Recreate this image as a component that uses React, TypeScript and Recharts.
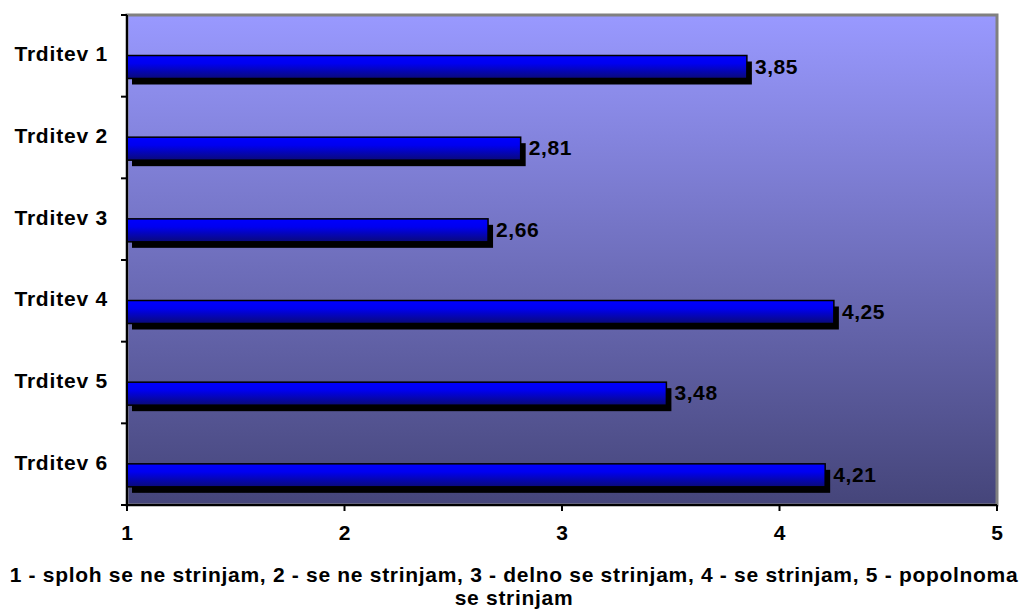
import React from "react";
import {
  BarChart,
  Bar,
  XAxis,
  YAxis,
  CartesianGrid,
  ReferenceArea,
  LabelList,
  Label,
} from "recharts";

const categories = ["Trditev 1", "Trditev 2", "Trditev 3", "Trditev 4", "Trditev 5", "Trditev 6"];
const values = [3.85, 2.81, 2.66, 4.25, 3.48, 4.21];
const xTicks = [1, 2, 3, 4, 5];
const titleLines = [
  "1 - sploh se ne strinjam, 2 - se ne strinjam, 3 - delno se strinjam, 4 - se strinjam, 5 - popolnoma",
  "se strinjam",
];

const data = categories.map((name, i) => ({ name, value: values[i] }));

const FONT = "'Liberation Sans', Arial, sans-serif";

// bar sits in the lower half of its band, with a black drop shadow
function ShadowBar(props: any) {
  const { x, y, width, height } = props;
  const top = y + height / 2;
  return (
    <g>
      <rect x={x + 5} y={top + 6} width={width} height={height} fill="#000" />
      <rect
        x={x}
        y={top}
        width={width}
        height={height}
        fill="url(#barFill)"
        stroke="#000"
        strokeWidth={1.5}
      />
    </g>
  );
}

function ValueLabel(props: any) {
  const { x, y, width, height, value } = props;
  return (
    <text
      x={x + width + 8}
      y={y + height + 1}
      dominantBaseline="middle"
      fontFamily={FONT}
      fontWeight="bold"
      fontSize={21}
      letterSpacing={0.6}
      fill="#000"
    >
      {Number(value).toFixed(2).replace(".", ",")}
    </text>
  );
}

function CategoryTick(props: any) {
  const { x, y, payload, index } = props;
  const half = payload?.offset ?? 41;
  return (
    <g>
      <line x1={x - 6} y1={y - half} x2={x} y2={y - half} stroke="#000" strokeWidth={2} />
      {index === categories.length - 1 && (
        <line x1={x - 6} y1={y + half} x2={x} y2={y + half} stroke="#000" strokeWidth={2} />
      )}
      <text
        x={x - 19}
        y={y}
        textAnchor="end"
        dominantBaseline="middle"
        fontFamily={FONT}
        fontWeight="bold"
        fontSize={21}
        letterSpacing={0.8}
        fill="#000"
      >
        {payload.value}
      </text>
    </g>
  );
}

function XTick(props: any) {
  const { x, y, payload } = props;
  return (
    <text
      x={x}
      y={y}
      dy={19}
      textAnchor="middle"
      fontFamily={FONT}
      fontWeight="bold"
      fontSize={21}
      fill="#000"
    >
      {payload.value}
    </text>
  );
}

function AxisTitle(props: any) {
  const vb = props.viewBox || {};
  const cx = 514;
  return (
    <text
      textAnchor="middle"
      fontFamily={FONT}
      fontWeight="bold"
      fontSize={21}
      letterSpacing={0.7}
      fill="#000"
    >
      <tspan x={cx} y={(vb.y ?? 505) + 77}>
        {titleLines[0]}
      </tspan>
      <tspan x={cx} y={(vb.y ?? 505) + 100}>
        {titleLines[1]}
      </tspan>
    </text>
  );
}

export default function App() {
  return (
    <div style={{ position: "absolute", left: 0, top: 0, width: 1026, height: 612, background: "#fff" }}>
      <BarChart
        width={1026}
        height={612}
        data={data}
        layout="vertical"
        margin={{ top: 15, right: 29, bottom: 0, left: 0 }}
        barSize={23}
      >
        <defs>
          <linearGradient id="plotBg" x1="0" y1="0" x2="0" y2="1">
            <stop offset="0%" stopColor="#9999ff" />
            <stop offset="100%" stopColor="#45457a" />
          </linearGradient>
          <linearGradient id="barFill" x1="0" y1="0" x2="0" y2="1">
            <stop offset="0%" stopColor="#0000ff" />
            <stop offset="35%" stopColor="#0000f0" />
            <stop offset="100%" stopColor="#0a0a78" />
          </linearGradient>
        </defs>
        <CartesianGrid horizontal={false} vertical={false} fill="url(#plotBg)" />
        <ReferenceArea x1={1} x2={5} fill="none" stroke="#808080" strokeWidth={3} />
        <XAxis
          type="number"
          domain={[1, 5]}
          ticks={xTicks}
          allowDataOverflow
          height={107}
          tickSize={6}
          tickMargin={10}
          axisLine={{ stroke: "#000", strokeWidth: 2 }}
          tickLine={{ stroke: "#000", strokeWidth: 2 }}
          tick={XTick}
        >
          <Label content={AxisTitle} />
        </XAxis>
        <YAxis
          type="category"
          dataKey="name"
          width={127}
          tickSize={0}
          tickMargin={0}
          axisLine={{ stroke: "#000", strokeWidth: 2 }}
          tickLine={false}
          tick={CategoryTick}
        />
        <Bar dataKey="value" shape={ShadowBar} isAnimationActive={false}>
          <LabelList dataKey="value" content={ValueLabel} />
        </Bar>
      </BarChart>
    </div>
  );
}
